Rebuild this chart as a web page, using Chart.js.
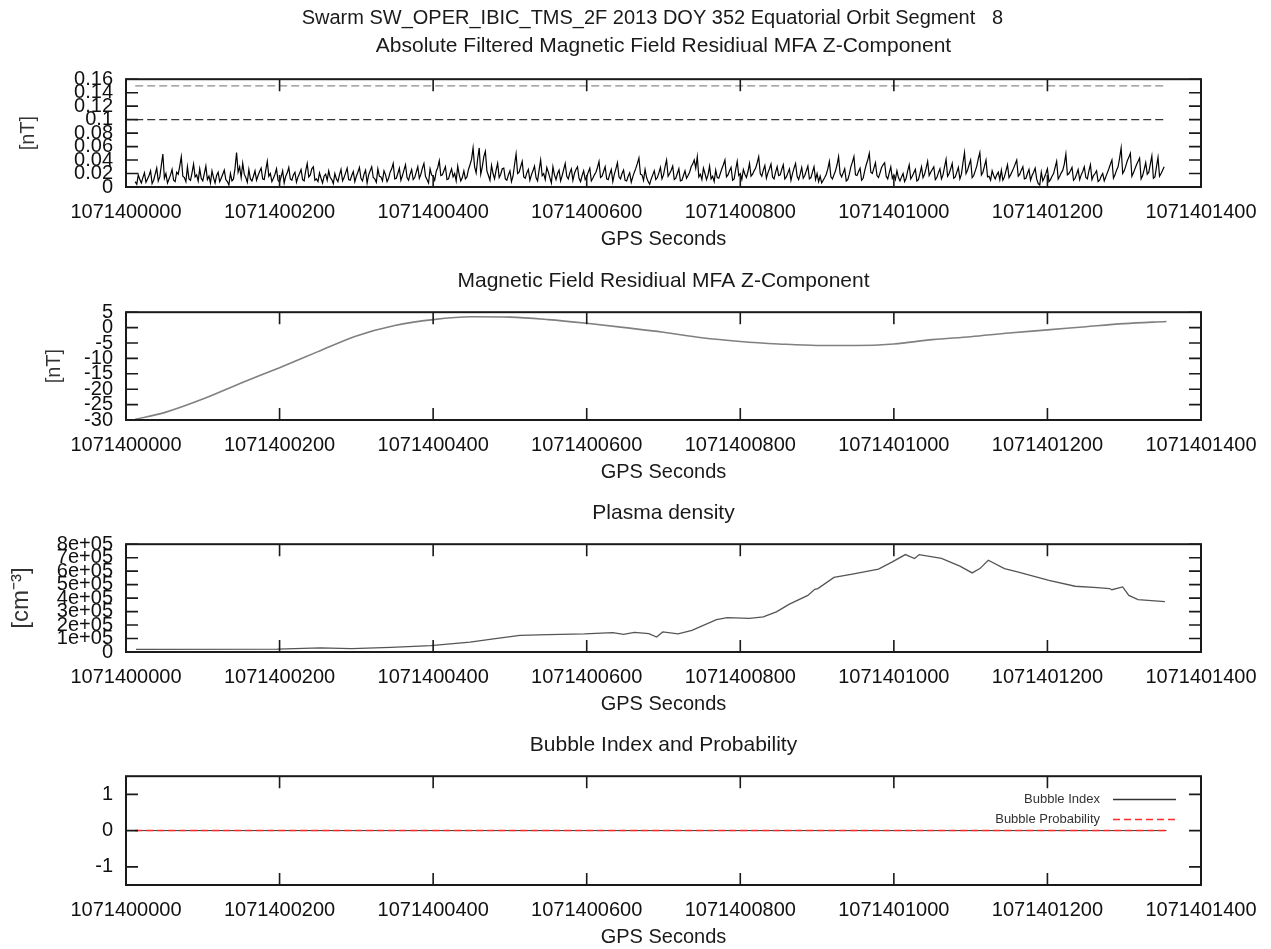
<!DOCTYPE html>
<html>
<head>
<meta charset="utf-8">
<script src="https://cdn.jsdelivr.net/npm/chart.js@4/dist/chart.umd.min.js"></script>
<style>
  body { margin: 0; background: #fff; }
  canvas { position: absolute; left: 0; }
</style>
</head>
<body>
<canvas id="c1" width="1271" height="247" style="top:4px"></canvas>
<canvas id="c2" width="1271" height="247" style="top:237px"></canvas>
<canvas id="c3" width="1271" height="247" style="top:469px"></canvas>
<canvas id="c4" width="1271" height="248" style="top:701px"></canvas>
<script>
// ---- data ----
var gpsStart = 1071400000;
var xTicks = [1071400000, 1071400200, 1071400400, 1071400600, 1071400800, 1071401000, 1071401200, 1071401400];

// absolute filtered residual, one sample every 2 s from t = 12 s
var noiseStart = 12, noiseStep = 2;
var absResidual = [
  0.008,0.004, 0.018,0.011, 0.006,0.014, 0.021,0.007, 0.012,0.017, 0.024,0.005, 0.010,0.019, 0.028,0.009, 0.015,0.032, 0.049,0.013,
  0.020,0.006, 0.012,0.018, 0.026,0.010, 0.008,0.022, 0.019,0.031, 0.045,0.016, 0.014,0.008, 0.030,0.012, 0.010,0.021, 0.034,0.015,
  0.018,0.009, 0.027,0.013, 0.009,0.020, 0.031,0.011, 0.016,0.006, 0.024,0.014, 0.006,0.017, 0.022,0.008, 0.013,0.019, 0.025,0.011,
  0.008,0.003, 0.020,0.009, 0.012,0.028, 0.051,0.022, 0.030,0.014, 0.035,0.019, 0.014,0.007, 0.026,0.012, 0.009,0.016, 0.024,0.010,
  0.017,0.023, 0.028,0.012, 0.011,0.025, 0.038,0.016, 0.020,0.008, 0.013,0.019, 0.027,0.010, 0.007,0.015, 0.024,0.006, 0.016,0.021,
  0.029,0.012, 0.010,0.018, 0.022,0.007, 0.015,0.020, 0.026,0.011, 0.009,0.024, 0.035,0.015, 0.018,0.027, 0.030,0.010, 0.012,0.008,
  0.021,0.013, 0.006,0.016, 0.019,0.010, 0.024,0.014, 0.011,0.005, 0.020,0.012, 0.008,0.018, 0.026,0.009, 0.014,0.021, 0.028,0.011,
  0.010,0.017, 0.023,0.008, 0.016,0.022, 0.029,0.013, 0.009,0.019, 0.025,0.006, 0.018,0.024, 0.030,0.014, 0.012,0.007, 0.027,0.016,
  0.015,0.009, 0.024,0.018, 0.008,0.013, 0.022,0.027, 0.035,0.012, 0.013,0.020, 0.028,0.010, 0.017,0.025, 0.033,0.014, 0.010,0.019,
  0.026,0.011, 0.014,0.022, 0.030,0.013, 0.019,0.028, 0.035,0.016, 0.011,0.006, 0.027,0.018, 0.016,0.010, 0.023,0.029, 0.039,0.017,
  0.018,0.024, 0.030,0.011, 0.012,0.020, 0.027,0.015, 0.020,0.009, 0.031,0.018, 0.009,0.014, 0.024,0.012, 0.015,0.026, 0.033,0.041,
  0.058,0.030, 0.021,0.042, 0.058,0.019, 0.030,0.045, 0.053,0.024, 0.017,0.010, 0.032,0.020, 0.012,0.025, 0.035,0.014, 0.019,0.027,
  0.028,0.012, 0.010,0.018, 0.024,0.008, 0.016,0.033, 0.049,0.020, 0.022,0.030, 0.038,0.015, 0.013,0.021, 0.026,0.010, 0.018,0.024,
  0.031,0.014, 0.009,0.025, 0.040,0.017, 0.020,0.011, 0.029,0.022, 0.014,0.006, 0.030,0.018, 0.011,0.020, 0.025,0.009, 0.017,0.026,
  0.035,0.016, 0.012,0.021, 0.027,0.010, 0.020,0.026, 0.030,0.013, 0.008,0.017, 0.024,0.011, 0.015,0.022, 0.028,0.009, 0.013,0.018,
  0.022,0.029, 0.038,0.014, 0.016,0.023, 0.030,0.012, 0.011,0.019, 0.026,0.008, 0.019,0.027, 0.036,0.015, 0.012,0.020, 0.025,0.010,
  0.009,0.016, 0.021,0.007, 0.015,0.022, 0.028,0.035, 0.043,0.019, 0.018,0.010, 0.026,0.014, 0.008,0.004, 0.012,0.018, 0.024,0.011,
  0.014,0.021, 0.029,0.012, 0.018,0.030, 0.040,0.016, 0.020,0.025, 0.031,0.011, 0.013,0.020, 0.027,0.009, 0.010,0.017, 0.024,0.013,
  0.017,0.022, 0.030,0.034, 0.040,0.028, 0.045,0.015, 0.019,0.011, 0.028,0.020, 0.011,0.018, 0.031,0.012, 0.016,0.008, 0.025,0.014,
  0.013,0.020, 0.027,0.033, 0.040,0.015, 0.018,0.024, 0.029,0.010, 0.012,0.026, 0.038,0.017, 0.020,0.011, 0.026,0.019, 0.014,0.023,
  0.035,0.016, 0.019,0.024, 0.028,0.036, 0.045,0.020, 0.016,0.025, 0.032,0.013, 0.021,0.027, 0.034,0.015, 0.012,0.022, 0.030,0.017,
  0.018,0.026, 0.033,0.012, 0.015,0.021, 0.027,0.010, 0.020,0.028, 0.035,0.016, 0.011,0.019, 0.029,0.013, 0.017,0.024, 0.031,0.012,
  0.014,0.022, 0.030,0.011, 0.020,0.008, 0.016,0.006, 0.010,0.014, 0.019,0.027, 0.038,0.015, 0.012,0.018, 0.024,0.033, 0.045,0.020,
  0.015,0.021, 0.027,0.009, 0.011,0.019, 0.030,0.037, 0.045,0.018, 0.017,0.023, 0.028,0.010, 0.013,0.024, 0.033,0.040, 0.050,0.022,
  0.020,0.028, 0.036,0.017, 0.014,0.021, 0.029,0.033, 0.036,0.016, 0.012,0.021, 0.030,0.013, 0.018,0.011, 0.024,0.014, 0.009,0.015,
  0.020,0.008, 0.013,0.024, 0.033,0.012, 0.016,0.021, 0.026,0.009, 0.011,0.020, 0.030,0.014, 0.019,0.028, 0.038,0.017, 0.022,0.026,
  0.030,0.011, 0.014,0.021, 0.027,0.012, 0.018,0.030, 0.041,0.016, 0.020,0.027, 0.035,0.013, 0.015,0.022, 0.029,0.012, 0.019,0.036,
  0.051,0.020, 0.025,0.033, 0.040,0.014, 0.017,0.024, 0.031,0.042, 0.051,0.018, 0.022,0.031, 0.040,0.015, 0.016,0.010, 0.024,0.017,
  0.012,0.018, 0.022,0.011, 0.025,0.010, 0.015,0.024, 0.033,0.014, 0.018,0.023, 0.028,0.034, 0.040,0.016, 0.019,0.025, 0.030,0.012,
  0.013,0.020, 0.026,0.010, 0.017,0.022, 0.028,0.012, 0.005,0.003, 0.022,0.009, 0.014,0.020, 0.027,0.008, 0.011,0.016, 0.020,0.029,
  0.038,0.012, 0.016,0.021, 0.025,0.034, 0.049,0.018, 0.020,0.024, 0.029,0.010, 0.013,0.019, 0.026,0.011, 0.018,0.023, 0.030,0.014,
  0.012,0.024, 0.033,0.011, 0.017,0.020, 0.024,0.008, 0.010,0.016, 0.020,0.009, 0.015,0.021, 0.027,0.034, 0.040,0.013, 0.018,0.025,
  0.030,0.043, 0.058,0.020, 0.024,0.031, 0.039,0.044, 0.050,0.016, 0.021,0.027, 0.033,0.038, 0.043,0.012, 0.017,0.026, 0.036,0.019,
  0.022,0.034, 0.046,0.013, 0.015,0.030, 0.044,0.016, 0.020,0.025, 0.030
];
var thresholdTimes = [12, 1355];
var thresholdHigh = [0.15, 0.15];
var thresholdLow = [0.1, 0.1];
var p1Ticks = [0, 0.02, 0.04, 0.06, 0.08, 0.1, 0.12, 0.14, 0.16];

// magnetic field residual (nT)
var residTimes = [12, 50, 100, 150, 200, 250, 300, 350, 400, 450, 500, 550, 600, 650, 700, 750, 800, 850, 900, 950, 1000, 1050, 1100, 1150, 1200, 1250, 1300, 1355];
var residValues = [-29.8, -27.6, -23.2, -18.0, -13.0, -7.8, -2.7, 0.7, 2.6, 3.5, 3.4, 2.6, 1.4, 0.0, -1.5, -3.3, -4.5, -5.3, -5.8, -5.8, -5.3, -3.9, -2.95, -1.75, -0.75, 0.3, 1.3, 2.0];
var p2Ticks = [-30, -25, -20, -15, -10, -5, 0, 5];

// plasma density (cm^-3)
var densTimes = [13, 197, 253, 294, 345, 397, 448, 481, 513, 550, 597, 634, 648, 662, 681, 691, 699, 719, 737, 769, 783, 812, 830, 847, 864, 888, 897, 901, 922, 946, 980, 998, 1015, 1027, 1033, 1062, 1086, 1102, 1112, 1123, 1144, 1161, 1202, 1236, 1265, 1281, 1284, 1298, 1306, 1318, 1353];
var densValues = [20000, 22000, 30000, 25000, 35000, 47000, 74000, 99000, 124000, 129000, 134000, 144000, 131000, 146000, 136000, 111000, 149000, 134000, 161000, 240000, 255000, 250000, 260000, 298000, 355000, 420000, 465000, 471000, 553000, 578000, 615000, 669000, 723000, 694000, 723000, 694000, 637000, 587000, 619000, 681000, 619000, 594000, 532000, 488000, 478000, 471000, 462000, 483000, 420000, 389000, 374000];
var p3Ticks = [0, 100000, 200000, 300000, 400000, 500000, 600000, 700000, 800000];

// bubble index / probability
var bubbleTimes = [12, 1355];
var bubbleIndex = [0, 0];
var bubbleProb = [0, 0];
var p4Ticks = [-1, 0, 1];

// ---- helpers ----
function pts(times, values) {
  return values.map(function (v, i) { return { x: gpsStart + times[i], y: v }; });
}
var noiseTimes = absResidual.map(function (v, i) { return noiseStart + i * noiseStep; });

Chart.defaults.font.family = '"Liberation Sans", Arial, sans-serif';
Chart.defaults.color = '#1a1a1a';

var frame = {
  id: 'frame',
  afterDatasetsDraw: function (chart) {
    var ctx = chart.ctx, a = chart.chartArea, x = chart.scales.x, y = chart.scales.y;
    ctx.save();
    ctx.strokeStyle = '#1a1a1a';
    ctx.lineWidth = 1.6;
    ctx.beginPath();
    x.ticks.forEach(function (t) {
      var px = x.getPixelForValue(t.value);
      ctx.moveTo(px, a.top); ctx.lineTo(px, a.top + 12);
      ctx.moveTo(px, a.bottom); ctx.lineTo(px, a.bottom - 12);
    });
    y.ticks.forEach(function (t) {
      var py = y.getPixelForValue(t.value);
      ctx.moveTo(a.left, py); ctx.lineTo(a.left + 12, py);
      ctx.moveTo(a.right, py); ctx.lineTo(a.right - 12, py);
    });
    ctx.stroke();
    ctx.lineWidth = 2;
    ctx.strokeRect(a.left, a.top, a.right - a.left, a.bottom - a.top);
    // legend (gnuplot style: text then sample) for panels that ask for it
    if (chart.options.plugins.frame && chart.options.plugins.frame.legend) {
      ctx.font = '13px "Liberation Sans", Arial, sans-serif';
      ctx.textAlign = 'right';
      ctx.textBaseline = 'middle';
      chart.data.datasets.forEach(function (ds, i) {
        var ly = Math.round(a.top + 23 + i * 20) + 0.5;
        ctx.fillStyle = '#333';
        ctx.fillText(ds.label, a.right - 101, ly);
        ctx.strokeStyle = ds.borderColor;
        ctx.lineWidth = 1.5;
        ctx.setLineDash(ds.borderDash || []);
        ctx.beginPath();
        ctx.moveTo(a.right - 88, ly); ctx.lineTo(a.right - 25, ly);
        ctx.stroke();
        ctx.setLineDash([]);
      });
    }
    ctx.restore();
  }
};

function makeChart(id, datasets, o) {
  return new Chart(document.getElementById(id), {
    type: 'line',
    data: { datasets: datasets },
    plugins: [frame],
    options: {
      responsive: false,
      animation: false,
      layout: { padding: { left: 0, right: 70, top: 0, bottom: 0 } },
      elements: { point: { radius: 0 } },
      plugins: {
        legend: { display: false },
        tooltip: { enabled: false },
        frame: { legend: !!o.legend },
        title: {
          display: true, text: o.title, fullSize: false,
          font: { size: o.titleSize || 21, weight: 'normal' }, color: '#1a1a1a',
          padding: o.titlePad
        },
        subtitle: {
          display: !!o.subtitle, text: o.subtitle || '', fullSize: false,
          font: { size: 21, weight: 'normal' }, color: '#1a1a1a',
          padding: o.subPad || 0
        }
      },
      scales: {
        x: {
          type: 'linear', min: 1071400000, max: 1071401400,
          grid: { display: false, drawTicks: false },
          border: { display: false },
          afterBuildTicks: function (s) { s.ticks = xTicks.map(function (v) { return { value: v }; }); },
          afterFit: function (s) { s.height = 64; },
          ticks: { autoSkip: false, maxRotation: 0, padding: 13, font: { size: 20 }, color: '#111',
                   callback: function (v) { return String(v); } },
          title: { display: true, text: 'GPS Seconds', font: { size: 20 }, color: '#1a1a1a', padding: 0 }
        },
        y: {
          min: o.min, max: o.max,
          grid: { display: false, drawTicks: false },
          border: { display: false },
          afterBuildTicks: function (s) { s.ticks = o.ticks.map(function (v) { return { value: v }; }); },
          afterFit: function (s) { s.width = 126; },
          ticks: { autoSkip: false, padding: 13, font: { size: 20 }, color: '#111', callback: o.fmt },
          title: { display: !!o.ytitle, text: o.ytitle || '', font: { size: o.ysize || 20 }, color: '#333',
                   padding: { top: o.ypad || 0, bottom: 0 } }
        }
      }
    }
  });
}

makeChart('c1', [
  { data: pts(thresholdTimes, thresholdHigh), borderColor: '#8c8c8c', borderWidth: 1.3, borderDash: [8, 4] },
  { data: pts(thresholdTimes, thresholdLow), borderColor: '#333', borderWidth: 1.3, borderDash: [8, 4] },
  { data: pts(noiseTimes, absResidual), borderColor: '#000', borderWidth: 1.2 }
], {
  title: 'Swarm SW_OPER_IBIC_TMS_2F 2013 DOY 352 Equatorial Orbit Segment   8    ',
  titleSize: 20,
  titlePad: { top: 2, bottom: 4 },
  subtitle: 'Absolute Filtered Magnetic Field Residiual MFA Z-Component',
  subPad: { top: 0, bottom: 20 },
  min: 0, max: 0.16, ticks: p1Ticks,
  fmt: function (v) { return String(Number(v.toFixed(2))); },
  ytitle: '[nT]', ypad: 16
});

makeChart('c2', [
  { data: pts(residTimes, residValues), borderColor: '#808080', borderWidth: 1.6, cubicInterpolationMode: 'monotone' }
], {
  title: 'Magnetic Field Residiual MFA Z-Component',
  titlePad: { top: 32, bottom: 18 },
  min: -30, max: 5, ticks: p2Ticks,
  fmt: function (v) { return String(v); },
  ytitle: '[nT]', ypad: 42
});

makeChart('c3', [
  { data: pts(densTimes, densValues), borderColor: '#555', borderWidth: 1.3 }
], {
  title: 'Plasma density',
  titlePad: { top: 32, bottom: 18 },
  min: 0, max: 800000, ticks: p3Ticks,
  fmt: function (v) { return v === 0 ? '0' : (v / 100000) + 'e+05'; },
  ytitle: '[cm\u207B\u00B3]', ysize: 24, ypad: 7
});

makeChart('c4', [
  { label: 'Bubble Index', data: pts(bubbleTimes, bubbleIndex), borderColor: '#333', borderWidth: 1, order: 1 },
  { label: 'Bubble Probability', data: pts(bubbleTimes, bubbleProb), borderColor: '#ff2a2a', borderWidth: 1.5, borderDash: [7, 4], order: 0 }
], {
  title: 'Bubble Index and Probability',
  titlePad: { top: 32, bottom: 18 },
  min: -1.5, max: 1.5, ticks: p4Ticks,
  fmt: function (v) { return String(v); },
  legend: true
});
</script>
</body>
</html>
